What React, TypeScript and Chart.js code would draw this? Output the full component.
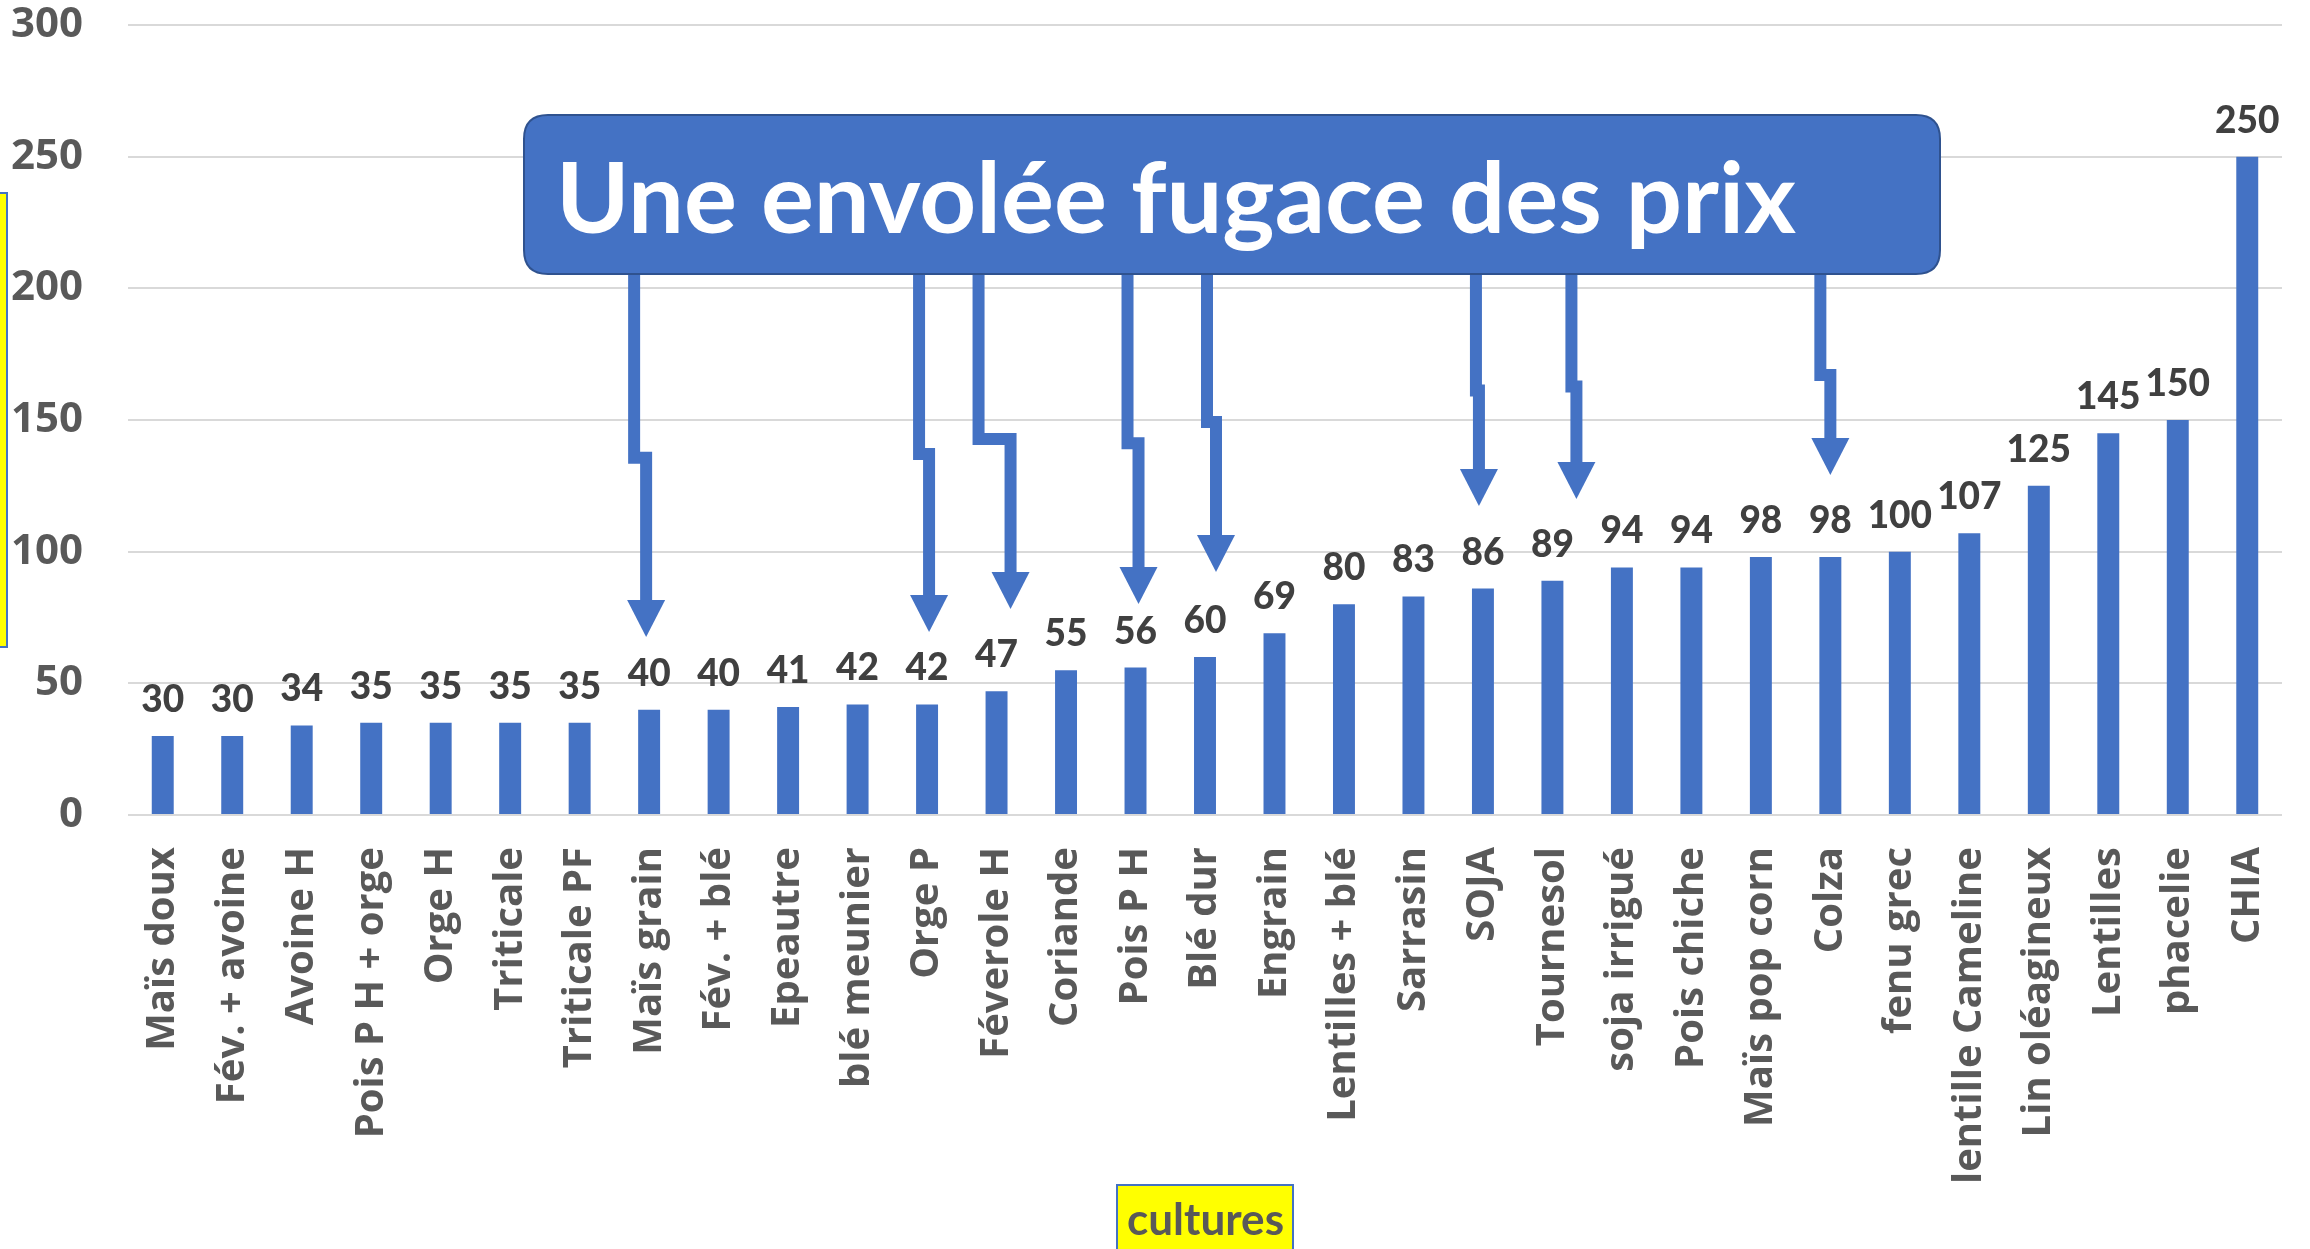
import React, { useEffect, useRef } from "react";
import { Chart, registerables } from "chart.js";

Chart.register(...registerables);

// ---- data ----
const CATEGORIES = [
  "Maïs doux", "Fév. + avoine", "Avoine H", "Pois P H + orge", "Orge H", "Triticale",
  "Triticale PF", "Maïs grain", "Fév. + blé", "Epeautre", "blé meunier", "Orge P",
  "Féverole H", "Coriande", "Pois P H", "Blé dur", "Engrain", "Lentilles + blé",
  "Sarrasin", "SOJA", "Tournesol", "soja irrigué", "Pois chiche", "Maïs pop corn",
  "Colza", "fenu grec", "lentille Cameline", "Lin oléagineux", "Lentilles", "phacelie", "CHIA",
];
const PRICES = [
  30, 30, 34, 35, 35, 35, 35, 40, 40, 41, 42, 42, 47, 55, 56, 60, 69, 80, 83, 86, 89,
  94, 94, 98, 98, 100, 107, 125, 145, 150, 250,
];
const Y_MIN = 0;
const Y_MAX = 300;
const Y_STEP = 50;
const TITLE = "Une envolée fugace des prix";
const X_TITLE = "cultures";

// ---- annotation arrows (target category, tip value, step value) ----
const ARROW_TARGETS = ["Maïs grain", "Orge P", "Féverole H", "Pois P H", "Blé dur", "SOJA", "Tournesol", "Colza"];
const ARROW_TIPS = [67.6, 69.5, 78.2, 80.1, 92.3, 117.3, 120, 129.1];
const ARROW_JOGS = [135.7, 137.1, 142.8, 141.2, 149.2, 161.2, 162.7, 167.1];
const ARROW_DX = [-3, 2, 14, 3, 11, -4, 24, 0];
const ARROW_STEP = [-12, -10, -32, -11, -9, -3, -5, -10];

const BLUE = "#4472C4";

const BOX = { left: 524, top: 115, right: 1940, bottom: 274, radius: 24 };

function roundRect(ctx: CanvasRenderingContext2D, x: number, y: number, w: number, h: number, r: number) {
  ctx.beginPath();
  ctx.moveTo(x + r, y);
  ctx.lineTo(x + w - r, y);
  ctx.quadraticCurveTo(x + w, y, x + w, y + r);
  ctx.lineTo(x + w, y + h - r);
  ctx.quadraticCurveTo(x + w, y + h, x + w - r, y + h);
  ctx.lineTo(x + r, y + h);
  ctx.quadraticCurveTo(x, y + h, x, y + h - r);
  ctx.lineTo(x, y + r);
  ctx.quadraticCurveTo(x, y, x + r, y);
  ctx.closePath();
}

function fitText(ctx: CanvasRenderingContext2D, text: string, x: number, y: number, width: number) {
  const w = ctx.measureText(text).width;
  ctx.save();
  ctx.translate(x, y);
  ctx.scale(width / w, 1);
  ctx.textAlign = "left";
  ctx.fillText(text, 0, 0);
  ctx.restore();
}

const labelsPlugin = {
  id: "valueLabels",
  afterDatasetsDraw(chart: any) {
    const ctx = chart.ctx as CanvasRenderingContext2D;
    const meta = chart.getDatasetMeta(0);
    ctx.save();
    ctx.font = "900 37px Lato";
    ctx.fillStyle = "#404040";
    ctx.textAlign = "center";
    ctx.textBaseline = "alphabetic";
    meta.data.forEach((bar: any, i: number) => {
      ctx.fillText(String(PRICES[i]), bar.x, bar.y - 24);
    });
    ctx.restore();
  },
};

const overlayPlugin = {
  id: "overlay",
  afterDraw(chart: any) {
    const ctx = chart.ctx as CanvasRenderingContext2D;
    const xs = chart.scales.x;
    const ys = chart.scales.y;

    // cut-off y-axis title box at the left edge
    ctx.save();
    ctx.fillStyle = "#FFFF00";
    ctx.strokeStyle = BLUE;
    ctx.lineWidth = 2;
    ctx.fillRect(-20, 193, 27, 454);
    ctx.strokeRect(-20, 193, 27, 454);
    ctx.restore();

    // arrows
    ctx.save();
    ctx.strokeStyle = BLUE;
    ctx.fillStyle = BLUE;
    ctx.lineWidth = 12;
    ctx.lineJoin = "miter";
    ctx.lineCap = "butt";
    ARROW_TARGETS.forEach((name, k) => {
      const i = CATEGORIES.indexOf(name);
      const xl = xs.getPixelForValue(i) + ARROW_DX[k];
      const xu = xl + ARROW_STEP[k];
      const yj = ys.getPixelForValue(ARROW_JOGS[k]);
      const tip = ys.getPixelForValue(ARROW_TIPS[k]);
      const headLen = 37;
      const headHalf = 19;
      ctx.beginPath();
      ctx.moveTo(xu, BOX.bottom - 4);
      ctx.lineTo(xu, yj);
      ctx.lineTo(xl, yj);
      ctx.lineTo(xl, tip - headLen + 2);
      ctx.stroke();
      ctx.beginPath();
      ctx.moveTo(xl - headHalf, tip - headLen);
      ctx.lineTo(xl + headHalf, tip - headLen);
      ctx.lineTo(xl, tip);
      ctx.closePath();
      ctx.fill();
    });
    ctx.restore();

    // title box
    ctx.save();
    roundRect(ctx, BOX.left, BOX.top, BOX.right - BOX.left, BOX.bottom - BOX.top, BOX.radius);
    ctx.fillStyle = BLUE;
    ctx.fill();
    ctx.strokeStyle = "#2F528F";
    ctx.lineWidth = 2;
    ctx.stroke();
    ctx.fillStyle = "#FFFFFF";
    ctx.font = "bold 97px Lato";
    ctx.textBaseline = "alphabetic";
    fitText(ctx, TITLE, 556, 233, 1240);
    ctx.restore();

    // x axis title box
    ctx.save();
    const cx = (chart.chartArea.left + chart.chartArea.right) / 2;
    const bw = 176;
    ctx.fillStyle = "#FFFF00";
    ctx.fillRect(cx - bw / 2, 1185, bw, 80);
    ctx.strokeStyle = BLUE;
    ctx.lineWidth = 2;
    ctx.strokeRect(cx - bw / 2, 1185, bw, 80);
    ctx.fillStyle = "#595959";
    ctx.font = "bold 44px Lato";
    fitText(ctx, X_TITLE, cx - 78, 1235, 157);
    ctx.restore();
  },
};

export default function App() {
  const ref = useRef<HTMLCanvasElement | null>(null);

  useEffect(() => {
    document.body.style.margin = "0";
    const canvas = ref.current!;
    const chart = new Chart(canvas, {
      type: "bar",
      data: {
        labels: CATEGORIES,
        datasets: [
          {
            data: PRICES,
            backgroundColor: BLUE,
            borderWidth: 0,
            barPercentage: 0.316,
            categoryPercentage: 1,
          },
        ],
      },
      options: {
        animation: false,
        responsive: false,
        devicePixelRatio: 1,
        layout: { padding: { top: 25, right: 28, left: 0, bottom: 0 } },
        plugins: {
          legend: { display: false },
          tooltip: { enabled: false },
          title: { display: false },
        },
        scales: {
          x: {
            grid: { display: false, drawTicks: false },
            border: { display: false },
            ticks: {
              autoSkip: false,
              minRotation: 90,
              maxRotation: 90,
              padding: 32,
              color: "#595959",
              font: { family: "'Open Sans'", weight: "bold", size: 40 },
            },
            afterFit: (scale: any) => {
              scale.height = 434;
              scale.paddingLeft = 0;
              scale.paddingRight = 0;
            },
          },
          y: {
            min: Y_MIN,
            max: Y_MAX,
            grid: { color: "#d9d9d9", lineWidth: 2, drawTicks: false },
            border: { display: false },
            ticks: {
              stepSize: Y_STEP,
              padding: 45,
              color: "#595959",
              font: { family: "'Open Sans'", weight: "bold", size: 42 },
            },
            afterFit: (scale: any) => {
              scale.width = 128;
              scale.paddingTop = 0;
              scale.paddingBottom = 0;
            },
          },
        },
      },
      plugins: [labelsPlugin, overlayPlugin],
    });
    return () => chart.destroy();
  }, []);

  return (
    <div style={{ position: "fixed", left: 0, top: 0, width: 2310, height: 1249, background: "#fff" }}>
      <canvas ref={ref} width={2310} height={1249} style={{ width: 2310, height: 1249, display: "block" }} />
    </div>
  );
}
